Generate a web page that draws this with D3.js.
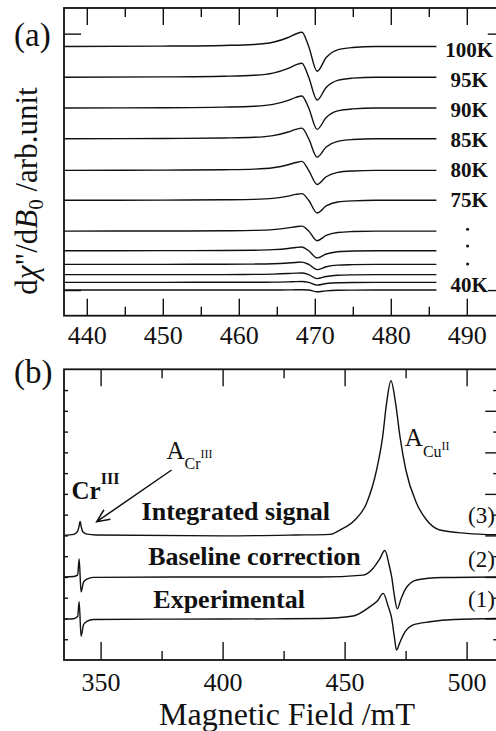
<!DOCTYPE html>
<html>
<head>
<meta charset="utf-8">
<script src="https://cdn.jsdelivr.net/npm/d3@7"></script>
<style>
body { margin: 0; background: #fff; }
svg { display: block; font-family: "Liberation Serif", "Times New Roman", serif; }
.frame { fill: none; stroke: #111; stroke-width: 1.8; }
.trace { fill: none; stroke: #111; stroke-width: 1.4; }
.axis path { display: none; }
.axis line { stroke: #111; stroke-width: 1.4; }
.axis text { font-family: "Liberation Serif", serif; font-size: 26px; fill: #111; }
.lbl { fill: #111; }
</style>
</head>
<body>
<script>
// (a) temperature series, field grid shared by all traces
var fieldA = [437, 450, 458, 462, 464.5, 466.5, 467.5, 468.3, 469.2, 470.3, 471.5, 473, 475, 478, 486];
var temps = [100, 95, 90, 85, 80, 75, 70, 65, 60, 55, 50, 40];
var offsetA = [285, 249, 213, 177, 140, 105, 69, 46, 30, 18, 9, 0];
var signalA = [
    [0, 0.4, 1.2, 2.3, 4.9, 10.5, 14.6, 16.6, 0, -29, -13, -4, -1.2, 0, 0],
    [0, 0.4, 1.2, 2.3, 4.8, 10.4, 14.4, 16.4, 0, -26.7, -12, -3.7, -1.1, 0, 0],
    [0, 0.3, 1.0, 2.0, 4.2, 8.9, 12.4, 14.1, 0, -25, -11.2, -3.4, -1, 0, 0],
    [0, 0.3, 0.9, 1.7, 3.7, 7.9, 11, 12.4, 0, -21.5, -9.6, -3, -0.9, 0, 0],
    [0, 0.3, 0.8, 1.5, 3.1, 6.6, 9.2, 10.5, 0, -16.5, -7.4, -2.3, -0.7, 0, 0],
    [0, 0.2, 0.6, 1.1, 2.3, 4.9, 6.9, 7.8, 0, -14.8, -6.6, -2, -0.6, 0, 0],
    [0, 0.1, 0.4, 0.8, 1.7, 3.7, 5.1, 5.8, 0, -11.3, -5.1, -1.6, -0.5, 0, 0],
    [0, 0.1, 0.3, 0.6, 1.3, 2.7, 3.8, 4.3, 0, -8.4, -3.8, -1.2, -0.3, 0, 0],
    [0, 0.1, 0.2, 0.4, 0.8, 1.7, 2.3, 2.7, 0, -6.1, -2.7, -0.8, -0.3, 0, 0],
    [0, 0, 0.1, 0.3, 0.6, 1.3, 1.8, 2.0, 0, -4.6, -2.1, -0.6, -0.2, 0, 0],
    [0, 0, 0.1, 0.1, 0.3, 0.6, 0.9, 1.0, 0, -3.2, -1.4, -0.4, -0.1, 0, 0],
    [0, 0, 0, 0, 0.1, 0.2, 0.3, 0.3, 0, -2, -0.9, -0.3, -0.1, 0, 0],
];
var labelA = ["100K", "95K", "90K", "85K", "80K", "75K", "40K"];
var labelAy = [273, 238, 203, 167, 132, 97, -2];
var dotsAy = [71, 51.5, 30.5];
var ticksA = [440, 450, 460, 470, 480, 490];
var minorA = [445, 455, 465, 475, 485];

// (b) experimental, baseline corrected and integrated spectra
var fieldExp = [335, 339, 340.6, 341.2, 342.0, 343, 344.4, 347, 380, 420, 440, 453.5, 460.4, 463.5, 465.8, 467.9, 469.3, 470.4, 471.3, 472.5, 474, 478.1, 485, 495, 515];
var exper = [1.97, 1.99, 2.09, 2.81, 1.15, 1.7, 1.86, 1.95, 1.97, 1.98, 2.0, 2.12, 2.57, 2.85, 3.21, 2.57, 2.0, 1.1, 0.48, 0.8, 1.2, 1.69, 1.84, 1.95, 2.0];
var fieldCorr = [335, 339, 340.6, 341.2, 342.0, 343, 344.4, 347, 380, 420, 440, 457.6, 461.7, 464.3, 466.5, 468.3, 469.3, 470.4, 471.6, 473, 474.7, 479.5, 490, 515];
var corr = [4.0, 4.02, 4.1, 4.87, 3.28, 3.75, 3.9, 3.98, 4.0, 4.0, 4.0, 4.09, 4.42, 4.85, 5.27, 4.55, 4.0, 3.1, 2.46, 2.9, 3.37, 3.85, 3.97, 4.0];
var fieldInt = [335, 339, 340.5, 341.1, 341.6, 342.1, 342.7, 344.5, 348, 400, 430, 444, 448.1, 454.2, 459, 463.1, 465.6, 467.2, 469, 470.9, 472.7, 475.1, 479.5, 483.6, 489, 500, 515];
var integ = [6.0, 6.05, 6.18, 6.4, 6.67, 6.4, 6.18, 6.06, 6.02, 5.98, 6.02, 6.05, 6.26, 6.74, 7.55, 9.15, 10.76, 12.37, 13.45, 12.37, 10.76, 9.15, 7.55, 6.74, 6.26, 6.1, 6.02];
var ticksB = [350, 400, 450, 500];
var minorB = [375, 425, 475];
var ticksBy = d3.range(1, 14);

var width = 496, height = 731;

var svg = d3.select("body").append("svg")
    .attr("width", width)
    .attr("height", height)
;

var xA = d3.scaleLinear().domain([437, 495]).range([64, 504.8]);
var yA = d3.scaleLinear().domain([-30, 330]).range([315.7, 8]);
var xB = d3.scaleLinear().domain([335, 515]).range([64, 503.2]);
var yB = d3.scaleLinear().domain([0, 14]).range([660, 369.3]);

function frame(x, y) {
    svg.append("rect")
        .attr("class", "frame")
        .attr("x", x.range()[0])
        .attr("y", y.range()[1])
        .attr("width", x.range()[1] - x.range()[0])
        .attr("height", y.range()[0] - y.range()[1]);
}

function addAxis(axis, tx, ty) {
    svg.append("g")
        .attr("class", "axis")
        .attr("transform", `translate(${tx}, ${ty})`)
        .call(axis);
}

// ---- panel (a)
var bA = yA.range()[0], tA = yA.range()[1], lA = xA.range()[0], rA = xA.range()[1];
addAxis(d3.axisBottom(xA).tickValues(ticksA).tickSize(-17).tickPadding(10).tickFormat(d3.format("d")), 0, bA);
addAxis(d3.axisBottom(xA).tickValues(minorA).tickSize(-9).tickFormat(""), 0, bA);
addAxis(d3.axisTop(xA).tickValues(ticksA).tickSize(-17).tickFormat(""), 0, tA);
addAxis(d3.axisTop(xA).tickValues(minorA).tickSize(-9).tickFormat(""), 0, tA);
addAxis(d3.axisLeft(yA).tickValues([0, 300]).tickSize(-17).tickFormat(""), lA, 0);
addAxis(d3.axisRight(yA).tickValues([0, 300]).tickSize(-17).tickFormat(""), rA, 0);

var lineA = d3.line()
    .x(d => xA(d[0]))
    .y(d => yA(d[1]))
    .curve(d3.curveMonotoneX);

svg.append("g").selectAll("path")
    .data(signalA)
    .enter().append("path")
    .attr("class", "trace")
    .attr("d", (s, i) => lineA(fieldA.map((f, j) => [f, offsetA[i] + s[j]])));

svg.append("g").selectAll("text")
    .data(labelA)
    .enter().append("text")
    .attr("class", "lbl")
    .attr("x", xA(490.3))
    .attr("y", (d, i) => yA(labelAy[i]))
    .attr("text-anchor", "middle")
    .attr("font-size", 21)
    .attr("font-weight", "bold")
    .text(d => d);

// vertical ellipsis between 75K and 40K
svg.append("g").selectAll("circle")
    .data(dotsAy)
    .enter().append("circle")
    .attr("cx", xA(490.1))
    .attr("cy", d => yA(d))
    .attr("r", 1.5)
    .attr("fill", "#111");

frame(xA, yA);

svg.append("text").attr("class", "lbl")
    .attr("x", 14).attr("y", 46)
    .attr("font-size", 33)
    .text("(a)");

var ylab = svg.append("text").attr("class", "lbl")
    .attr("transform", "translate(37, 191) rotate(-90)")
    .attr("text-anchor", "middle")
    .attr("font-size", 31);
ylab.append("tspan").text("d");
ylab.append("tspan").attr("font-style", "italic").text("\u03c7");
ylab.append("tspan").text("\"/d");
ylab.append("tspan").attr("font-style", "italic").text("B");
ylab.append("tspan").attr("font-size", 21).attr("dy", 6).text("0");
ylab.append("tspan").attr("dy", -6).text(" /arb.unit");

// ---- panel (b)
var bB = yB.range()[0], tB = yB.range()[1], lB = xB.range()[0], rB = xB.range()[1];
addAxis(d3.axisBottom(xB).tickValues(ticksB).tickSize(-18).tickPadding(13).tickFormat(d3.format("d")), 0, bB);
addAxis(d3.axisBottom(xB).tickValues(minorB).tickSize(-9).tickFormat(""), 0, bB);
addAxis(d3.axisTop(xB).tickValues(ticksB).tickSize(-17).tickFormat(""), 0, tB);
addAxis(d3.axisTop(xB).tickValues(minorB).tickSize(-9).tickFormat(""), 0, tB);
addAxis(d3.axisLeft(yB).tickValues(ticksBy).tickSize(-4).tickFormat(""), lB, 0);
addAxis(d3.axisRight(yB).tickValues(ticksBy.filter(d => d % 2 == 0)).tickSize(-18).tickFormat(""), rB, 0);
addAxis(d3.axisRight(yB).tickValues(ticksBy.filter(d => d % 2 == 1)).tickSize(-10).tickFormat(""), rB, 0);

var lineB = d3.line()
    .x(d => xB(d[0]))
    .y(d => yB(d[1]))
    .curve(d3.curveMonotoneX);

var spectraB = [
    fieldExp.map((f, i) => [f, exper[i]]),
    fieldCorr.map((f, i) => [f, corr[i]]),
    fieldInt.map((f, i) => [f, integ[i]]),
];
svg.append("g").selectAll("path")
    .data(spectraB)
    .enter().append("path")
    .attr("class", "trace")
    .attr("d", lineB);

frame(xB, yB);

var names = [
    {text: "Integrated signal", x: 366.8, y: 6.74},
    {text: "Baseline correction", x: 369.5, y: 4.58},
    {text: "Experimental", x: 371.6, y: 2.49},
];
svg.append("g").selectAll("text")
    .data(names)
    .enter().append("text")
    .attr("class", "lbl")
    .attr("x", d => xB(d.x))
    .attr("y", d => yB(d.y))
    .attr("font-size", 26)
    .attr("font-weight", "bold")
    .text(d => d.text);

var nums = [{t: "(3)", y: 6.58}, {t: "(2)", y: 4.48}, {t: "(1)", y: 2.55}];
svg.append("g").selectAll("text")
    .data(nums)
    .enter().append("text")
    .attr("class", "lbl")
    .attr("x", xB(500.6))
    .attr("y", d => yB(d.y))
    .attr("font-size", 23)
    .text(d => d.t);

var cr = svg.append("text").attr("class", "lbl")
    .attr("x", xB(338.1)).attr("y", yB(7.74))
    .attr("font-size", 25).attr("font-weight", "bold");
cr.append("tspan").text("Cr");
cr.append("tspan").attr("font-size", 16).attr("dy", -15).text("III");

var acr = svg.append("text").attr("class", "lbl")
    .attr("x", xB(377)).attr("y", yB(9.67))
    .attr("font-size", 25);
acr.append("tspan").text("A");
acr.append("tspan").attr("font-size", 16).attr("dy", 9.7).text("Cr");
acr.append("tspan").attr("font-size", 12).attr("dy", -11).text("III");

var acu = svg.append("text").attr("class", "lbl")
    .attr("x", xB(474.7)).attr("y", yB(10.31))
    .attr("font-size", 25);
acu.append("tspan").text("A");
acu.append("tspan").attr("font-size", 16).attr("dy", 10.7).text("Cu");
acu.append("tspan").attr("font-size", 12).attr("dy", -6.7).text("II");

// arrow pointing at the Cr integrated peak
var tail = [xB(379.1), yB(9.15)], tip = [xB(348.4), yB(6.66)];
var ang = Math.atan2(tip[1] - tail[1], tip[0] - tail[0]);
var head = 14, spread = 0.42;
svg.append("path")
    .attr("d", `M${tail[0]},${tail[1]}L${tip[0]},${tip[1]}` +
        `M${tip[0] - head * Math.cos(ang - spread)},${tip[1] - head * Math.sin(ang - spread)}` +
        `L${tip[0]},${tip[1]}` +
        `L${tip[0] - head * Math.cos(ang + spread)},${tip[1] - head * Math.sin(ang + spread)}`)
    .attr("fill", "none")
    .attr("stroke", "#111")
    .attr("stroke-width", 1.5);

svg.append("text").attr("class", "lbl")
    .attr("x", 14).attr("y", 383)
    .attr("font-size", 33)
    .text("(b)");

svg.append("text").attr("class", "lbl")
    .attr("x", 287).attr("y", 725)
    .attr("text-anchor", "middle")
    .attr("font-size", 32)
    .text("Magnetic Field /mT");
</script>
</body>
</html>
